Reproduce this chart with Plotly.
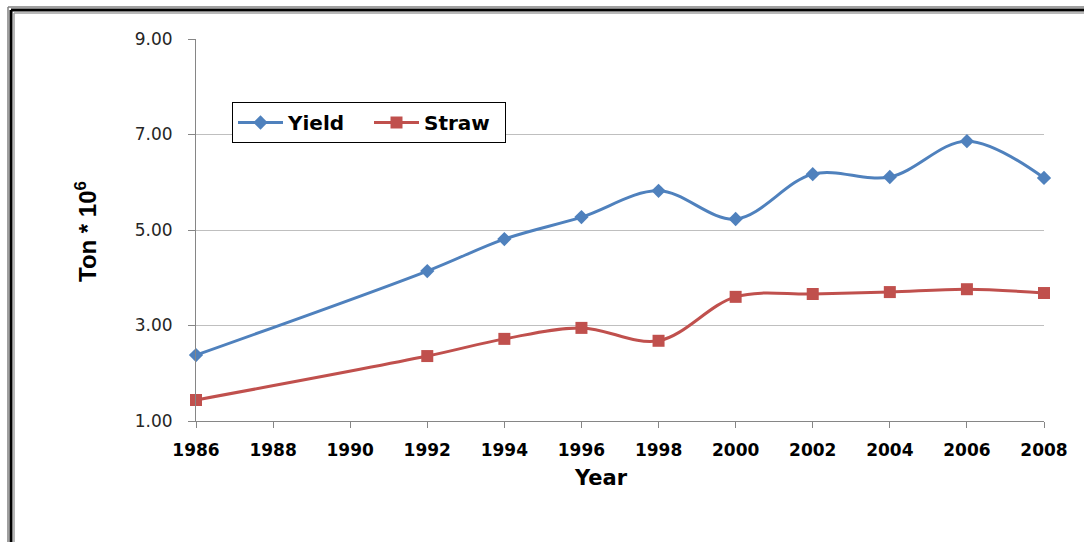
import plotly.graph_objects as go

years = [1986, 1992, 1994, 1996, 1998, 2000, 2002, 2004, 2006, 2008]
yield_vals = [2.38, 4.14, 4.81, 5.27, 5.82, 5.23, 6.17, 6.11, 6.86, 6.09]
straw_vals = [1.44, 2.36, 2.72, 2.95, 2.68, 3.60, 3.66, 3.70, 3.76, 3.68]
x_ticks = list(range(1986, 2009, 2))
y_ticks = [1, 3, 5, 7, 9]

W, H = 1084, 542
L, R, T, B = 196, 40, 39, 121
PW, PH = W - L - R, H - T - B


def px(x):
    return (x - L) / PW


def py(y):
    return (H - B - y) / PH


fig = go.Figure()
fig.add_trace(go.Scatter(
    x=years, y=yield_vals, name="<b>Yield</b>", mode="lines+markers",
    line=dict(color="#4F81BD", width=3, shape="spline", smoothing=1),
    marker=dict(symbol="diamond", size=11, color="#4F81BD"),
    cliponaxis=False,
))
fig.add_trace(go.Scatter(
    x=years, y=straw_vals, name="<b>Straw</b>", mode="lines+markers",
    line=dict(color="#C0504D", width=3, shape="spline", smoothing=1),
    marker=dict(symbol="square", size=12, color="#C0504D"),
    cliponaxis=False,
))

shapes = []
# frame (left and top edges, like a framed chart image)
for off, col, wdt in [(0, "#808080", 1.5), (3, "#000000", 3), (6, "#A0A0A0", 1.5)]:
    shapes.append(dict(type="line", xref="paper", yref="paper",
                       x0=px(8 + off), x1=px(8 + off), y0=py(7 + off), y1=py(600),
                       line=dict(color=col, width=wdt), layer="above"))
    shapes.append(dict(type="line", xref="paper", yref="paper",
                       x0=px(8 + off), x1=px(1200), y0=py(7 + off), y1=py(7 + off),
                       line=dict(color=col, width=wdt), layer="above"))

fig.update_layout(
    width=W, height=H,
    margin=dict(l=L, r=R, t=T, b=B),
    paper_bgcolor="white", plot_bgcolor="white",
    showlegend=True,
    legend=dict(
        x=px(232), y=py(102), xanchor="left", yanchor="top",
        orientation="h", bordercolor="#000000", borderwidth=1,
        bgcolor="white",
        font=dict(family="DejaVu Sans", size=20, color="#000000"),
        itemwidth=45, tracegroupgap=0, entrywidth=76,
    ),
    xaxis=dict(
        range=[1986, 2008], tickvals=x_ticks,
        ticktext=[f"<b>{v}</b>" for v in x_ticks],
        showgrid=False, showline=True, linecolor="#868686", linewidth=1,
        ticks="outside", ticklen=6, tickcolor="#868686",
        tickfont=dict(family="DejaVu Sans", size=17, color="#000000"),
        ticklabelstandoff=8,
        zeroline=False,
    ),
    yaxis=dict(
        range=[1, 9], tickvals=y_ticks,
        ticktext=[f"{v:.2f}" for v in y_ticks],
        showgrid=True, gridcolor="#BFBFBF", gridwidth=1,
        showline=True, linecolor="#868686", linewidth=1,
        ticks="outside", ticklen=7, tickcolor="#868686",
        tickfont=dict(family="DejaVu Sans", size=17, color="#262626"),
        ticklabelstandoff=12,
        zeroline=False,
    ),
    shapes=shapes,
    annotations=[
        dict(text="<b>Year</b>", xref="paper", yref="paper",
             x=px(601), y=py(478), xanchor="center", yanchor="middle",
             showarrow=False,
             font=dict(family="DejaVu Sans", size=21, color="#000000")),
        dict(text="<b>Ton * 10<sup>6</sup></b>", xref="paper", yref="paper",
             x=px(86), y=py(232), xanchor="center", yanchor="middle",
             showarrow=False, textangle=-90,
             font=dict(family="Liberation Sans", size=24, color="#000000")),
    ],
)

fig.write_html("out.html")
